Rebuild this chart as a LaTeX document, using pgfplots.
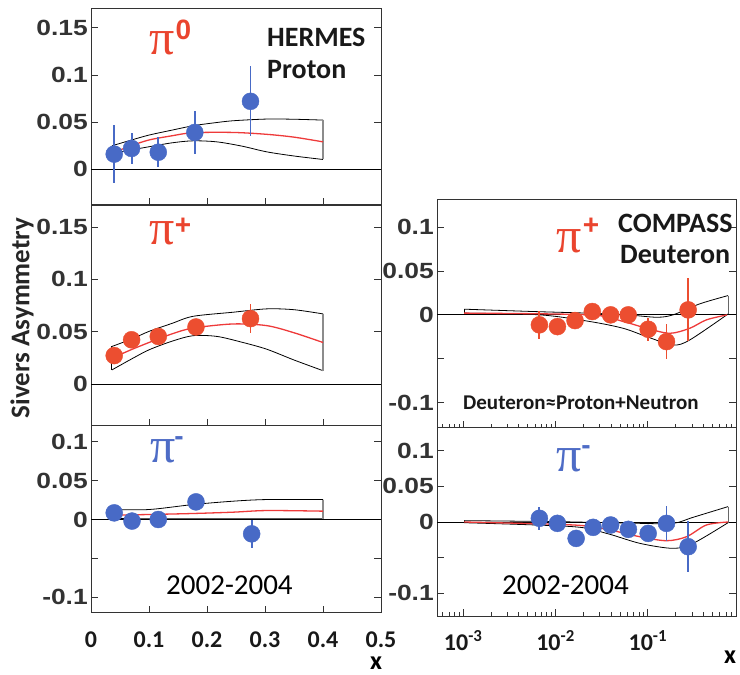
\documentclass[border=0pt]{standalone}
\usepackage{fontspec}
\setmainfont{Carlito}
\newfontfamily\arialf{Liberation Sans}
\newfontfamily\timesf{Liberation Serif}
\usepackage{pgfplots}
\pgfplotsset{compat=1.18}

\definecolor{hblue}{RGB}{72,106,198}
\definecolor{hred}{RGB}{236,78,48}
\definecolor{cred}{RGB}{238,58,58}
\definecolor{lred}{RGB}{234,68,46}
\definecolor{lblue}{RGB}{78,108,198}

\newcommand\ytfont{\arialf\bfseries\fontsize{22bp}{22bp}\selectfont}
\newcommand\xtfont{\bfseries\fontsize{24bp}{24bp}\selectfont}
\newcommand\pifont{\timesf\fontsize{50bp}{50bp}\selectfont}
\newcommand\supfont{\arialf\bfseries\fontsize{28bp}{28bp}\selectfont}

\pgfplotsset{
  panel/.style={
    scale only axis, anchor=north west,
    axis line style={black!80, line width=1bp},
    every tick/.style={black!80, line width=0.8bp},
    tick align=inside, major tick length=7bp, minor tick length=4bp,
    xtick pos=left, ytick pos=both,
    yticklabel style={font=\ytfont, text=black!80, anchor=east, inner sep=0pt, xshift=-3bp, xscale=1.2},
    xticklabel style={font=\xtfont, text=black!90, anchor=north, inner sep=0pt, yshift=-19bp},
  },
  linpanel/.style={panel, width=290bp, xmin=0, xmax=0.5, xtick={0.1,0.2,0.3,0.4}, xticklabels={}},
  logpanel/.style={panel, width=299bp, xmin=5.2e-4, xmax=0.9,
    xtick={1e-3,1e-2,1e-1}, xticklabels={},
    minor xtick={6e-4,7e-4,8e-4,9e-4,2e-3,3e-3,4e-3,5e-3,6e-3,7e-3,8e-3,9e-3,2e-2,3e-2,4e-2,5e-2,6e-2,7e-2,8e-2,9e-2,2e-1,3e-1,4e-1,5e-1,6e-1,7e-1,8e-1},
    ytick={-0.1,-0.05,0,0.05,0.1}, yticklabels={-0.1,,0,0.05,0.1}},
  band/.style={black, line width=0.8bp, smooth, tension=0.5},
  fitline/.style={cred, line width=1.3bp, smooth, tension=0.5},
  zero/.style={black, line width=0.8bp},
  pts/.style={only marks, mark=*, mark size=8.5bp, color=#1,
    error bars/.cd, y dir=both, y explicit, error mark=none,
    error bar style={line width=1.8bp, #1}},
}

\begin{document}
\begin{tikzpicture}
\path[use as bounding box] (0,0) rectangle (740bp,675bp);

% HERMES pi0
\begin{axis}[linpanel, at={(91bp,666bp)}, height=196bp, ymin=-0.038, ymax=0.17,
  ytick={0,0.05,0.1,0.15}, yticklabels={0,0.05,0.1,0.15}]
\addplot[zero] coordinates {(0,0) (0.5,0)};
\addplot[band] coordinates {(0.036,0.0248) (0.07,0.0310) (0.10,0.0362) (0.14,0.0415) (0.176,0.0461) (0.21,0.0490) (0.245,0.0514) (0.303,0.0532) (0.35,0.0530) (0.40,0.0521)};
\addplot[band] coordinates {(0.036,0.0167) (0.07,0.0205) (0.10,0.0238) (0.14,0.0280) (0.176,0.0301) (0.217,0.0290) (0.26,0.0245) (0.303,0.0184) (0.35,0.0140) (0.40,0.0103)};
\addplot[black, line width=0.8bp] coordinates {(0.036,0.0167) (0.036,0.0248)};
\addplot[black!45, line width=1.2bp] coordinates {(0.40,0.0103) (0.40,0.0521)};
\addplot[fitline] coordinates {(0.036,0.0170) (0.07,0.0250) (0.10,0.0310) (0.14,0.0355) (0.176,0.0387) (0.245,0.0390) (0.303,0.0370) (0.35,0.0340) (0.40,0.0290)};
\addplot[pts=hblue] table[x=x, y=y, y error=e] {
x y e
0.040 0.016 0.031
0.070 0.022 0.016
0.116 0.018 0.016
0.179 0.039 0.023
0.275 0.072 0.037
};
\end{axis}

% HERMES pi+
\begin{axis}[linpanel, at={(91bp,469bp)}, height=220bp, ymin=-0.040, ymax=0.17,
  ytick={0,0.05,0.1,0.15}, yticklabels={0,0.05,0.1,0.15}]
\addplot[zero] coordinates {(0,0) (0.5,0)};
\addplot[band] coordinates {(0.036,0.0359) (0.07,0.0430) (0.10,0.0503) (0.14,0.0580) (0.176,0.0647) (0.245,0.0686) (0.303,0.0718) (0.35,0.0710) (0.40,0.0670)};
\addplot[band] coordinates {(0.036,0.0135) (0.07,0.0240) (0.10,0.0327) (0.14,0.0410) (0.176,0.0462) (0.217,0.0455) (0.26,0.0400) (0.303,0.0333) (0.35,0.0230) (0.40,0.0128)};
\addplot[black, line width=0.8bp] coordinates {(0.036,0.0135) (0.036,0.0359)};
\addplot[black!45, line width=1.2bp] coordinates {(0.40,0.0128) (0.40,0.0670)};
\addplot[fitline] coordinates {(0.036,0.0247) (0.07,0.0330) (0.10,0.0397) (0.14,0.0480) (0.176,0.0535) (0.245,0.0574) (0.303,0.0558) (0.35,0.0490) (0.40,0.0397)};
\addplot[pts=hred] table[x=x, y=y, y error=e] {
x y e
0.040 0.0272 0.004
0.070 0.0423 0.004
0.116 0.0455 0.004
0.181 0.0545 0.008
0.275 0.0625 0.014
};
\end{axis}

% HERMES pi-
\begin{axis}[linpanel, at={(91bp,249bp)}, height=187bp, ymin=-0.12, ymax=0.12,
  ytick={-0.1,-0.05,0,0.05,0.1}, yticklabels={-0.1,,0,0.05,0.1},
  xtick={0,0.1,0.2,0.3,0.4,0.5}, xticklabels={0,0.1,0.2,0.3,0.4,0.5}]
\addplot[zero] coordinates {(0,0) (0.5,0)};
\addplot[band] coordinates {(0.036,0.0128) (0.10,0.0128) (0.176,0.0192) (0.245,0.0235) (0.303,0.0256) (0.40,0.0256)};
\addplot[band] coordinates {(0.036,0.0015) (0.10,0.0008) (0.176,0.0008) (0.40,0.0008)};
\addplot[black, line width=0.8bp] coordinates {(0.036,0.0015) (0.036,0.0128)};
\addplot[black!45, line width=1.2bp] coordinates {(0.40,0.0008) (0.40,0.0256)};
\addplot[fitline] coordinates {(0.036,0.0056) (0.10,0.0064) (0.176,0.0077) (0.245,0.0094) (0.303,0.0115) (0.40,0.0107)};
\addplot[pts=hblue] table[x=x, y=y, y error=e] {
x y e
0.040 0.0085 0.004
0.0707 -0.002 0.004
0.116 0.0 0.004
0.181 0.0226 0.010
0.277 -0.0184 0.018
};
\end{axis}

% COMPASS pi+
\begin{axis}[xmode=log, logpanel, at={(437bp,475bp)}, height=228bp, ymin=-0.129, ymax=0.131]
\addplot[zero] coordinates {(5.2e-4,0) (0.9,0)};
\addplot[band] coordinates {(1.02e-3,0.0065) (0.0058,0.0038) (0.0236,0.0019) (0.06,0.0) (0.124,-0.0027) (0.187,0.0) (0.365,0.0126) (0.738,0.022)};
\addplot[band] coordinates {(1.02e-3,0.002) (0.0068,0.0) (0.0236,-0.0076) (0.054,-0.0153) (0.0968,-0.0248) (0.187,-0.0343) (0.284,-0.0286) (0.738,0.001)};
\addplot[black, line width=0.8bp] coordinates {(1.02e-3,0.002) (1.02e-3,0.0065)};
\addplot[black!60, line width=1bp] coordinates {(0.738,0.001) (0.738,0.022)};
\addplot[fitline] coordinates {(1.02e-3,0.002) (0.0236,0.0) (0.054,-0.0076) (0.0968,-0.0153) (0.173,-0.021) (0.284,-0.0153) (0.43,-0.0057) (0.72,0.0)};
\addplot[pts=hred] table[x=x, y=y, y error=e] {
x y e
0.00668 -0.0114 0.016
0.01047 -0.0134 0.010
0.01626 -0.0065 0.007
0.025 0.0038 0.005
0.0395 0.0 0.005
0.0612 0.0 0.0095
0.1007 -0.0164 0.013
0.159 -0.0305 0.020
0.273 0.0057 0.036
};
\end{axis}

% COMPASS pi-
\begin{axis}[xmode=log, logpanel, at={(437bp,247bp)}, height=188bp, ymin=-0.132, ymax=0.132,
  xticklabels={10\textsuperscript{-3},10\textsuperscript{-2},10\textsuperscript{-1}},
  xticklabel style={yshift=5bp}]
\addplot[zero] coordinates {(5.2e-4,0) (0.9,0)};
\addplot[band] coordinates {(1.02e-3,0.0019) (0.01,0.0005) (0.082,-0.0019) (0.187,-0.002) (0.309,0.0066) (0.738,0.0216)};
\addplot[band] coordinates {(1.02e-3,-0.001) (0.0156,-0.0066) (0.0357,-0.016) (0.082,-0.030) (0.187,-0.037) (0.309,-0.030) (0.738,-0.001)};
\addplot[black, line width=0.8bp] coordinates {(1.02e-3,-0.001) (1.02e-3,0.0019)};
\addplot[black!60, line width=1bp] coordinates {(0.738,-0.001) (0.738,0.0216)};
\addplot[fitline] coordinates {(1.02e-3,0.0) (0.0156,-0.0042) (0.0357,-0.0103) (0.082,-0.0207) (0.159,-0.0263) (0.262,-0.0207) (0.43,-0.0042) (0.738,0.0)};
\addplot[pts=hblue] table[x=x, y=y, y error=e] {
x y e
0.00668 0.0052 0.0165
0.01047 -0.0019 0.005
0.0167 -0.023 0.004
0.0255 -0.0075 0.004
0.0395 -0.0042 0.004
0.0615 -0.0103 0.007
0.1007 -0.016 0.009
0.159 -0.0019 0.0245
0.273 -0.0347 0.036
};
\end{axis}

% labels
\node[rotate=90, font=\bfseries\fontsize{27bp}{27bp}\selectfont, text=black!85] at (22bp,357bp) {Sivers Asymmetry};
\node[anchor=base west, inner sep=0pt, font=\bfseries\fontsize{26bp}{26bp}\selectfont] at (370bp,6bp) {x};
\node[anchor=base west, inner sep=0pt, font=\bfseries\fontsize{26bp}{26bp}\selectfont] at (724bp,12bp) {x};

\node[anchor=base west, inner sep=0pt, font=\bfseries\fontsize{28bp}{28bp}\selectfont, text=black!90] at (267bp,628bp) {HERMES};
\node[anchor=base west, inner sep=0pt, font=\bfseries\fontsize{28bp}{28bp}\selectfont, text=black!90] at (267bp,596bp) {Proton};
\node[anchor=base west, inner sep=0pt, font=\bfseries\fontsize{28bp}{28bp}\selectfont, text=black!90] at (618bp,442bp) {COMPASS};
\node[anchor=base west, inner sep=0pt, font=\bfseries\fontsize{28bp}{28bp}\selectfont, text=black!90] at (620bp,411bp) {Deuteron};
\node[anchor=base west, inner sep=0pt, font=\bfseries\fontsize{21bp}{21bp}\selectfont, text=black!90] at (463bp,265bp) {Deuteron≈Proton+Neutron};
\node[anchor=base west, inner sep=0pt, font=\fontsize{29bp}{29bp}\selectfont] at (166bp,80bp) {2002-2004};
\node[anchor=base west, inner sep=0pt, font=\fontsize{29bp}{29bp}\selectfont] at (502bp,80bp) {2002-2004};

% pion labels
\node[anchor=base west, inner sep=0pt, font=\pifont, text=lred] at (149bp,620bp) {π};
\node[inner sep=0pt, font=\supfont, text=lred] at (183.5bp,645bp) {0};
\node[anchor=base west, inner sep=0pt, font=\pifont, text=lred] at (149bp,430bp) {π};
\node[inner sep=0pt, font=\supfont, text=lred] at (183bp,449bp) {+};
\node[anchor=base west, inner sep=0pt, font=\pifont, text=lblue] at (150bp,212bp) {π};
\node[inner sep=0pt, font=\supfont, text=lblue] at (179bp,234bp) {-};
\node[anchor=base west, inner sep=0pt, font=\pifont, text=lred] at (556bp,422bp) {π};
\node[inner sep=0pt, font=\supfont, text=lred] at (591bp,449bp) {+};
\node[anchor=base west, inner sep=0pt, font=\pifont, text=lblue] at (556bp,203bp) {π};
\node[inner sep=0pt, font=\supfont, text=lblue] at (586bp,225bp) {-};
\end{tikzpicture}
\end{document}
